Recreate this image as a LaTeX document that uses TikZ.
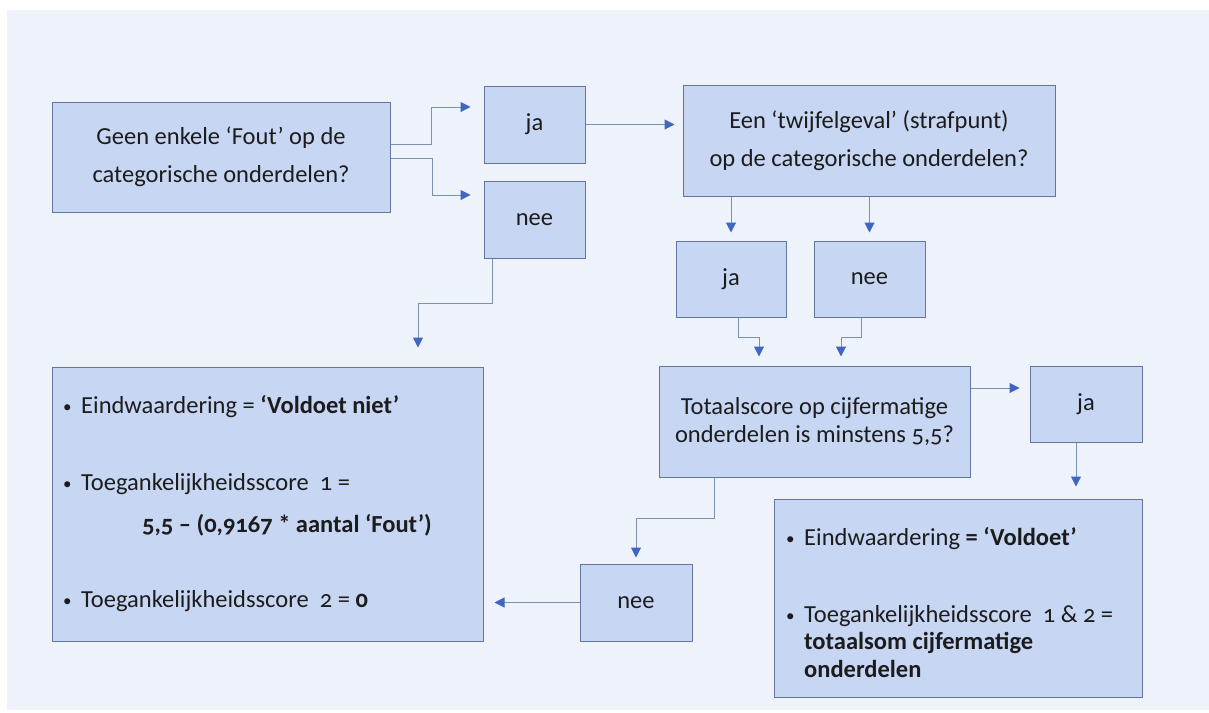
\documentclass[tikz,border=0pt]{standalone}
\usepackage{fontspec}
\setmainfont{Carlito}[Numbers=OldStyle]
\usetikzlibrary{arrows.meta}
\definecolor{bgcol}{HTML}{EDF2FB}
\definecolor{boxfill}{HTML}{C6D6F3}
\definecolor{boxline}{HTML}{62769E}
\definecolor{conncol}{HTML}{7D8FB3}
\definecolor{tipcol}{HTML}{3F66C0}
\definecolor{txtcol}{HTML}{1C1C1C}
\newcommand{\bul}{{\fontsize{17}{20}\selectfont •}}
\begin{document}
\begin{tikzpicture}[x=1pt,y=-1pt,
  box/.style={draw=boxline, fill=boxfill, line width=1pt, inner sep=0pt, text=txtcol, align=center,
    font=\fontsize{24.5}{38}\selectfont},
  tightbox/.style={box, font=\fontsize{24.5}{28}\selectfont},
  conn/.style={draw=conncol, line width=1pt, -{Triangle[length=10pt,width=10pt,color=tipcol,fill=tipcol]}},
  itemtxt/.style={anchor=base west, inner sep=0pt, text=txtcol, font=\fontsize{24.5}{28}\selectfont},
]
\useasboundingbox (0,0) rectangle (1209,712);
\fill[white] (0,0) rectangle (1209,712);
\fill[bgcol] (7,10) rectangle (1209,710);

% boxes
\node[box, minimum width=338pt, minimum height=110pt] (A) at (221,157) {Geen enkele ‘Fout’ op de\\categorische onderdelen?};
\node[box, minimum width=101pt, minimum height=77pt] (ja1) at (534.5,124.5) {ja};
\node[box, minimum width=101pt, minimum height=77pt] (nee1) at (534.5,219.5) {nee};
\node[box, minimum width=372pt, minimum height=111pt] (B) at (869,140.5) {Een ‘twijfelgeval’ (strafpunt)\\op de categorische onderdelen?};
\node[box, minimum width=110pt, minimum height=76pt] (ja2) at (731,279) {ja};
\node[box, minimum width=111pt, minimum height=76pt] (nee2) at (869.5,279) {nee};
\node[tightbox, minimum width=311pt, minimum height=111pt] (C) at (814.5,421.5) {Totaalscore op cijfermatige\\onderdelen is minstens 5,5?};
\node[box, minimum width=112pt, minimum height=76pt] (ja3) at (1086,404) {ja};
\node[box, minimum width=368pt, minimum height=198pt] (D) at (958,598) {};
\node[box, minimum width=112pt, minimum height=77pt] (nee3) at (636,602.5) {nee};
\node[box, minimum width=431pt, minimum height=274pt] (E) at (267.5,504) {};

% texts of E
\node[itemtxt] (e1b) at (63,412) {\bul};
\node[itemtxt] (e1) at (81,413) {Eindwaardering = \textbf{‘Voldoet niet’}};
\node[itemtxt] (e2b) at (63,489) {\bul};
\node[itemtxt] (e2) at (81,490) {Toegankelijkheidsscore\ \ 1 =};
\node[itemtxt] (e3) at (142,532) {\textbf{5,5 – (0,9167 * aantal ‘Fout’)}};
\node[itemtxt] (e4b) at (63,606) {\bul};
\node[itemtxt] (e4) at (81,607) {Toegankelijkheidsscore\ \ 2 = \textbf{0}};

% texts of D
\node[itemtxt] (d1b) at (786,544) {\bul};
\node[itemtxt] (d1) at (804,545) {Eindwaardering \textbf{= ‘Voldoet’}};
\node[itemtxt] (d2b) at (786,621) {\bul};
\node[itemtxt] (d2) at (804,622) {Toegankelijkheidsscore\ \ 1 \& 2 =};
\node[itemtxt] (d3) at (804,649) {\textbf{totaalsom cijfermatige}};
\node[itemtxt] (d4) at (804,677) {\textbf{onderdelen}};

% connectors
\draw[conn] ([yshift=13pt]A.east) -- ++(41,0) |- ([xshift=-13pt,yshift=17.5pt]ja1.west);
\draw[conn] ([yshift=-1pt]A.east) -- ++(42,0) |- ([xshift=-13pt,yshift=24.5pt]nee1.west);
\draw[conn] (ja1.east) -- ([xshift=-8pt]ja1.east -| B.west);
\draw[conn] (B.south -| ja2.north) -- ([yshift=8pt]ja2.north);
\draw[conn] (B.south -| nee2.north) -- ([yshift=8pt]nee2.north);
\draw[conn] ([xshift=7pt]ja2.south) -- ++(0,20) -| ([xshift=-55.5pt,yshift=9pt]C.north);
\draw[conn] ([xshift=-8.5pt]nee2.south) -- ++(0,20) -| ([xshift=26.5pt,yshift=9pt]C.north);
\draw[conn] ([yshift=33.5pt]C.east) -- ([xshift=-10pt,yshift=33.5pt]C.east -| ja3.west);
\draw[conn] ([xshift=-10pt]ja3.south) -- ([xshift=-10pt,yshift=12pt]ja3.south |- D.north);
\draw[conn] ([xshift=-100pt]C.south) -- ++(0,41) -| ([yshift=6pt]nee3.north);
\draw[conn] (nee3.west) -- ([xshift=11pt]nee3.west -| E.east);
\draw[conn] ([xshift=-42pt]nee1.south) -- ++(0,45) -| ([xshift=150.5pt,yshift=19pt]E.north);
\end{tikzpicture}
\end{document}
